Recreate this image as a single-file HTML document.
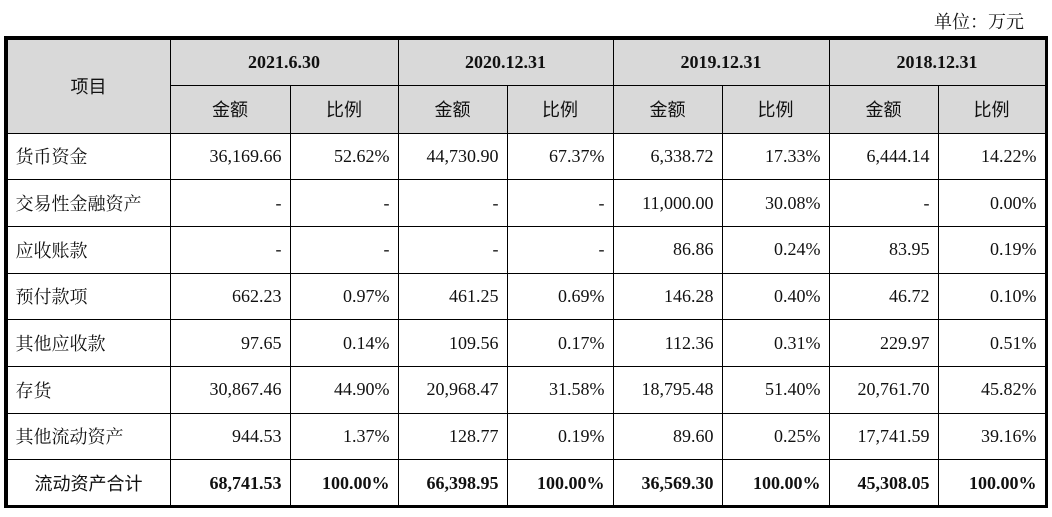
<!DOCTYPE html>
<html><head><meta charset="utf-8">
<style>
body{margin:0;width:1052px;height:517px;background:#fff;position:relative;overflow:hidden;font-family:"Liberation Serif","Noto Serif CJK SC",serif;color:#111}
#unit{position:absolute;right:28px;top:8px;font-size:18px;font-family:"Liberation Serif","Noto Serif CJK SC",serif}
#box{position:absolute;left:4px;top:36px;width:1038px;height:466px;border:3px solid #000}
table{border-collapse:collapse;table-layout:fixed;width:1039px;margin:-0.5px 0 0 -0.5px}
td{border:1px solid #000;padding:0 8px;font-size:18px;white-space:nowrap;text-align:right}
thead td{background:#d9d9d9;text-align:center;font-weight:bold}
.cn{font-family:"Noto Sans CJK SC",sans-serif;font-weight:normal}
tbody td:first-child{text-align:left;font-family:"Liberation Serif","Noto Serif CJK SC",serif}
tr.h1 td{height:45px}tr.h2 td{height:47px}
tbody tr td{height:45.7px}
tr.tot td{font-weight:bold}
tr.tot td:first-child{text-align:center;font-family:"Noto Sans CJK SC",sans-serif;font-weight:normal}
</style></head><body>
<div id="unit">单位：万元</div>
<div id="box">
<table>
<colgroup><col style="width:163px"><col style="width:120px"><col style="width:108px"><col style="width:109px"><col style="width:106px"><col style="width:109px"><col style="width:107px"><col style="width:109px"><col style="width:107px"></colgroup>
<thead>
<tr class="h1"><td rowspan="2" class="cn">项目</td><td colspan="2">2021.6.30</td><td colspan="2">2020.12.31</td><td colspan="2">2019.12.31</td><td colspan="2">2018.12.31</td></tr>
<tr class="h2"><td class="cn">金额</td><td class="cn">比例</td><td class="cn">金额</td><td class="cn">比例</td><td class="cn">金额</td><td class="cn">比例</td><td class="cn">金额</td><td class="cn">比例</td></tr>
</thead>
<tbody>
<tr><td>货币资金</td><td>36,169.66</td><td>52.62%</td><td>44,730.90</td><td>67.37%</td><td>6,338.72</td><td>17.33%</td><td>6,444.14</td><td>14.22%</td></tr>
<tr><td>交易性金融资产</td><td>-</td><td>-</td><td>-</td><td>-</td><td>11,000.00</td><td>30.08%</td><td>-</td><td>0.00%</td></tr>
<tr><td>应收账款</td><td>-</td><td>-</td><td>-</td><td>-</td><td>86.86</td><td>0.24%</td><td>83.95</td><td>0.19%</td></tr>
<tr><td>预付款项</td><td>662.23</td><td>0.97%</td><td>461.25</td><td>0.69%</td><td>146.28</td><td>0.40%</td><td>46.72</td><td>0.10%</td></tr>
<tr><td>其他应收款</td><td>97.65</td><td>0.14%</td><td>109.56</td><td>0.17%</td><td>112.36</td><td>0.31%</td><td>229.97</td><td>0.51%</td></tr>
<tr><td>存货</td><td>30,867.46</td><td>44.90%</td><td>20,968.47</td><td>31.58%</td><td>18,795.48</td><td>51.40%</td><td>20,761.70</td><td>45.82%</td></tr>
<tr><td>其他流动资产</td><td>944.53</td><td>1.37%</td><td>128.77</td><td>0.19%</td><td>89.60</td><td>0.25%</td><td>17,741.59</td><td>39.16%</td></tr>
<tr class="tot"><td>流动资产合计</td><td>68,741.53</td><td>100.00%</td><td>66,398.95</td><td>100.00%</td><td>36,569.30</td><td>100.00%</td><td>45,308.05</td><td>100.00%</td></tr>
</tbody>
</table>
</div>
</body></html>
